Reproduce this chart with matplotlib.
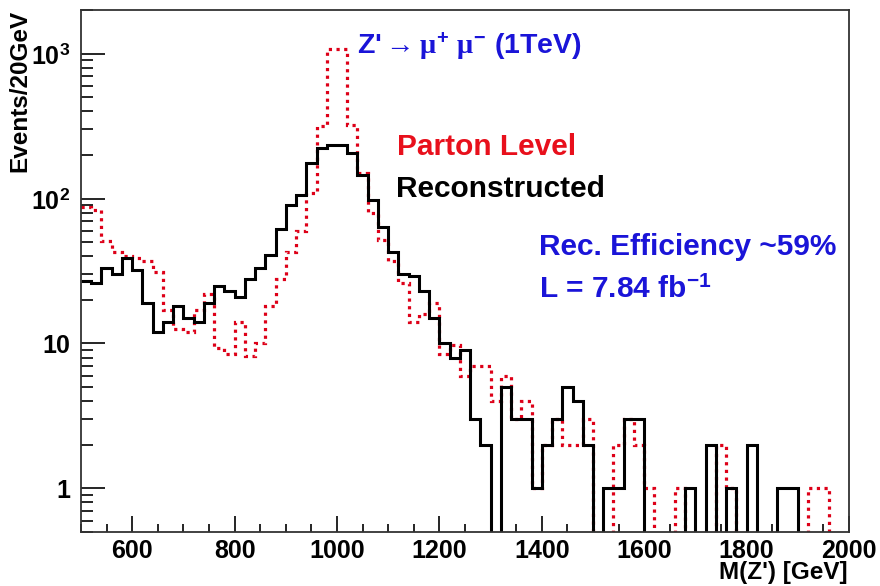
import numpy as np
import matplotlib
matplotlib.use("Agg")
import matplotlib.pyplot as plt
from matplotlib.ticker import MultipleLocator, LogLocator, FixedLocator, NullFormatter

plt.rcParams['font.family'] = ['Liberation Sans', 'DejaVu Sans']
plt.rcParams['font.weight'] = 'bold'
plt.rcParams['mathtext.fontset'] = 'custom'
plt.rcParams['mathtext.rm'] = 'Liberation Sans:bold'
plt.rcParams['mathtext.bf'] = 'Liberation Sans:bold'
plt.rcParams['mathtext.it'] = 'Liberation Serif'

# 20 GeV bins from 500 to 2000 GeV
bin_lo = 500
bin_hi = 2000
bin_w = 20

# reconstructed (black, solid)
reco = [27, 26, 33, 30, 39, 32, 19, 12, 14, 18,
        15, 14, 19, 25, 23, 21, 28, 33, 41, 62,
        90, 105, 176, 224, 236, 236, 207, 146, 98, 64,
        43, 30, 29, 23, 15, 10, 8, 9, 3, 2,
        0, 5, 3, 3, 1, 2, 3, 5, 4, 2,
        0, 1, 1, 3, 3, 0, 0, 0, 0, 1,
        0, 2, 0, 1, 0, 2, 0, 0, 1, 1,
        0, 0, 0, 0, 0]

# parton level (red, dotted)
parton = [88, 84, 51, 43, 40, 39, 37, 31, 17, 12.5,
          12, 17, 22, 9.3, 8.4, 14, 8.2, 10, 18, 28,
          43, 60, 109, 315, 1070, 1070, 324, 150, 80, 52,
          37, 26, 14, 16, 19, 8.4, 9.8, 6, 7, 7,
          4, 6, 3, 4, 1, 2, 3, 2, 2, 3,
          0, 0, 2, 3, 2, 1, 0, 0, 1, 0,
          0, 0, 2, 1, 0, 0, 0, 0, 0, 0,
          0, 1, 1, 0, 0]

edges = np.arange(bin_lo, bin_hi + bin_w, bin_w)
reco = np.array(reco, dtype=float)
parton = np.array(parton, dtype=float)

fig = plt.figure(figsize=(8.8, 5.86), dpi=100)
ax = fig.add_axes([81/880, 1 - 532/586, (849 - 81)/880, (532 - 10)/586])

# empty bins drop below the frame like in ROOT
floor = 1e-3
ax.stairs(np.where(parton > 0, parton, floor), edges, baseline=None,
          color='#dd0018', lw=2.3, ls=(0, (1, 1.4)))
ax.stairs(np.where(reco > 0, reco, floor), edges, baseline=None,
          color='black', lw=2.2)

ax.set_yscale('log')
ax.set_xlim(bin_lo, bin_hi)
ax.set_ylim(0.5, 2000)

ax.xaxis.set_major_locator(MultipleLocator(200))
ax.xaxis.set_minor_locator(MultipleLocator(50))
ax.yaxis.set_major_locator(FixedLocator([1, 10, 100, 1000]))
ax.yaxis.set_minor_locator(LogLocator(base=10, subs=np.arange(2, 10)))
ax.yaxis.set_minor_formatter(NullFormatter())
ax.set_yticklabels(['1', '10', r'10$^{2}$', r'10$^{3}$'])

ax.tick_params(axis='both', which='both', direction='in', top=False, right=False,
               labelsize=18, width=1.2)
ax.tick_params(axis='y', which='major', length=17, pad=8)
ax.tick_params(axis='y', which='minor', length=8.5)
ax.tick_params(axis='x', which='major', length=11.5, pad=5)
ax.tick_params(axis='x', which='minor', length=5.8)
for lab in ax.get_xticklabels() + ax.get_yticklabels():
    lab.set_fontweight('bold')
for s in ax.spines.values():
    s.set_linewidth(1.3)
    s.set_color('#333333')

fig.text(20/880, 1 - 10/586, 'Events/20GeV', rotation=90, ha='center', va='top',
         fontsize=17.5, fontweight='bold')
fig.text(848/880, 1 - 572/586, "M(Z') [GeV]", ha='right', va='center',
         fontsize=17.5, fontweight='bold')

blue = '#1a14d8'
fig.text(357/880, 1 - 53/586, r"Z'$\rightarrow\mathit{\mu}^{+}\ \mathit{\mu}^{-}$ (1TeV)",
         ha='left', va='baseline', fontsize=20.5, fontweight='bold', color=blue)
fig.text(397/880, 1 - 155/586, 'Parton Level', ha='left', va='baseline',
         fontsize=21.5, fontweight='bold', color='#e8101c')
fig.text(396/880, 1 - 197/586, 'Reconstructed', ha='left', va='baseline',
         fontsize=21.5, fontweight='bold', color='black')
fig.text(539/880, 1 - 255/586, 'Rec. Efficiency ~59%', ha='left', va='baseline',
         fontsize=21.5, fontweight='bold', color=blue)
fig.text(539/880, 1 - 298/586, r'L = 7.84 fb$^{-1}$', ha='left', va='baseline',
         fontsize=21.5, fontweight='bold', color=blue)

fig.savefig('out.png', dpi=100)
